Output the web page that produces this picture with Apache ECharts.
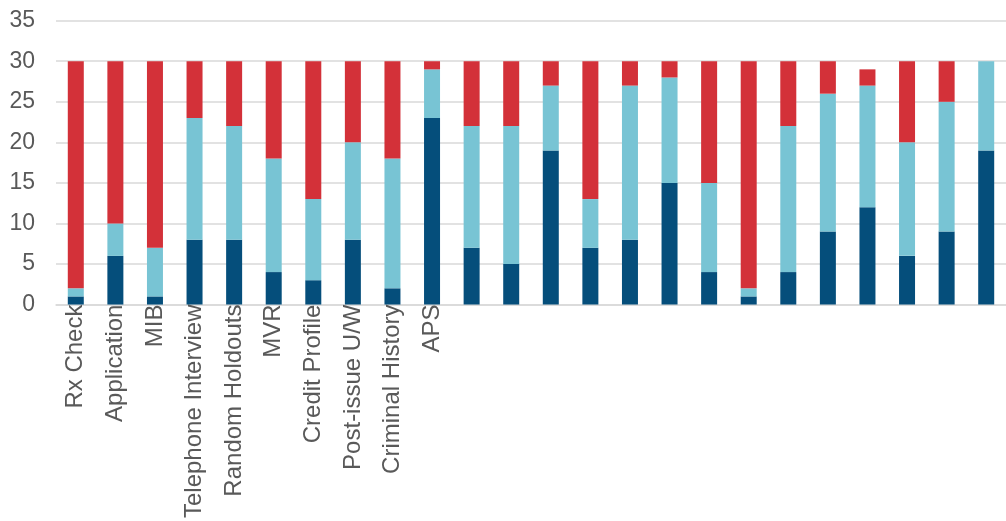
<!DOCTYPE html>
<html>
<head>
<meta charset="utf-8">
<script src="https://cdn.jsdelivr.net/npm/echarts@6/dist/echarts.min.js"></script>
<style>
html,body{margin:0;padding:0;background:#fff;}
#chart{width:1006px;height:521px;}
</style>
</head>
<body>
<div id="chart"></div>
<script>
var categories = ["Rx Check","Application","MIB","Telephone Interview","Random Holdouts","MVR","Credit Profile","Post-issue U/W","Criminal History","APS","","","","","","","","","","","","","",""];
var darkValues  = [1, 6, 1, 8, 8, 4, 3, 8, 2, 23, 7, 5, 19, 7, 8, 15, 4, 1, 4, 9, 12, 6, 9, 19];
var lightValues = [1, 4, 6, 15, 14, 14, 10, 12, 16, 6, 15, 17, 8, 6, 19, 13, 11, 1, 18, 17, 15, 14, 16, 11];
var redValues   = [28, 20, 23, 7, 8, 12, 17, 10, 12, 1, 8, 8, 3, 17, 3, 2, 15, 28, 8, 4, 2, 10, 5, 0];
var yTicks = {min: 0, max: 35, interval: 5};

var chart = echarts.init(document.getElementById('chart'));
var font = 'Liberation Sans, Arial, sans-serif';
function mk(name, data, color) {
  return {
    name: name, type: 'bar', stack: 'total', data: data, barWidth: 16,
    itemStyle: {color: color}, emphasis: {disabled: true}
  };
}
chart.setOption({
  animation: false,
  grid: {left: 56, right: -10, top: 20.7, bottom: 215, containLabel: false},
  xAxis: {
    type: 'category', data: categories,
    axisLine: {show: true, lineStyle: {color: '#d9d9d9', width: 1.5}},
    axisTick: {show: false},
    axisLabel: {interval: 0, rotate: 90, margin: 0, color: '#595959', fontSize: 24, fontFamily: font}
  },
  yAxis: {
    type: 'value', min: yTicks.min, max: yTicks.max, interval: yTicks.interval,
    axisLine: {show: false}, axisTick: {show: false},
    splitLine: {lineStyle: {color: '#d9d9d9', width: 1.5}},
    axisLabel: {margin: 21, color: '#595959', fontSize: 23, fontFamily: font}
  },
  series: [
    mk('Series 1', darkValues, '#054E7B'),
    mk('Series 2', lightValues, '#78C4D4'),
    mk('Series 3', redValues, '#D33139')
  ]
});
</script>
</body>
</html>
